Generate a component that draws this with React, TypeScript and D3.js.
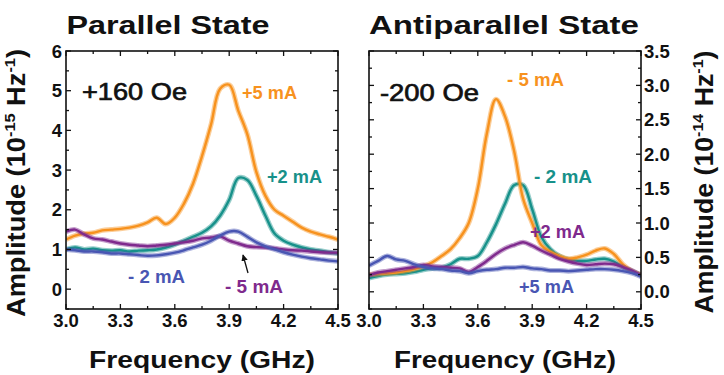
import * as d3 from 'd3';

// frequency grid (GHz) shared by all traces
const freqs = [
  3.0, 3.05, 3.1, 3.15, 3.2, 3.25, 3.3, 3.35, 3.4, 3.45, 3.5, 3.55, 3.6, 3.65, 3.7, 3.75,
  3.8, 3.85, 3.9, 3.95, 4.0, 4.05, 4.1, 4.15, 4.2, 4.25, 4.3, 4.35, 4.4, 4.45, 4.5,
];

// parallel state, +160 Oe (1e-15 / Hz)
const parPlus5 = [
  1.25, 1.35, 1.4, 1.42, 1.48, 1.5, 1.52, 1.55, 1.6, 1.68, 1.8, 1.64, 1.8, 2.15, 2.65, 3.35,
  4.15, 5.05, 5.15, 4.5, 3.9, 2.95, 2.35, 2.0, 1.85, 1.7, 1.55, 1.45, 1.38, 1.32, 1.25,
];
const parPlus2 = [
  1.0, 1.05, 1.0, 1.02, 0.98, 0.97, 0.98, 0.95, 0.97, 0.98, 1.0, 1.05, 1.12, 1.22, 1.32, 1.42,
  1.58, 1.85, 2.25, 2.8, 2.75, 2.35, 1.85, 1.4, 1.22, 1.12, 1.05, 1.0, 0.97, 0.93, 0.9,
];
const parMinus5 = [
  1.45, 1.5, 1.38, 1.28, 1.25, 1.2, 1.15, 1.12, 1.1, 1.08, 1.1, 1.12, 1.15, 1.18, 1.22, 1.28,
  1.3, 1.33, 1.22, 1.15, 1.08, 1.06, 1.05, 1.03, 1.0, 0.98, 0.97, 0.95, 0.93, 0.92, 0.92,
];
const parMinus2 = [
  1.0, 0.98, 0.95, 0.95, 0.93, 0.9, 0.9, 0.88, 0.86, 0.84, 0.85, 0.88, 0.92, 0.98, 1.05, 1.12,
  1.22, 1.35, 1.45, 1.45, 1.32, 1.18, 1.08, 1.0, 0.93, 0.87, 0.82, 0.78, 0.75, 0.72, 0.7,
];

// antiparallel state, -200 Oe (1e-14 / Hz)
const apMinus5 = [
  0.25, 0.26, 0.27, 0.28, 0.3, 0.33, 0.37, 0.43, 0.52, 0.62, 0.78, 1.0, 1.5, 2.3, 2.8, 2.55,
  2.05, 1.35, 1.0, 0.68, 0.58, 0.52, 0.48, 0.5, 0.54, 0.6, 0.63, 0.55, 0.4, 0.3, 0.25,
];
const apMinus2 = [
  0.2, 0.23, 0.25, 0.26, 0.27, 0.29, 0.32, 0.34, 0.35, 0.4, 0.48, 0.48, 0.52, 0.72, 0.98, 1.28,
  1.55, 1.55, 1.2, 0.8, 0.62, 0.52, 0.47, 0.45, 0.45, 0.47, 0.48, 0.44, 0.36, 0.3, 0.24,
];
const apPlus2 = [
  0.24, 0.28, 0.3, 0.32, 0.34, 0.36, 0.39, 0.37, 0.36, 0.35, 0.34, 0.29, 0.36, 0.45, 0.55, 0.63,
  0.68, 0.72, 0.67, 0.6, 0.54, 0.48, 0.44, 0.41, 0.39, 0.4, 0.41, 0.4, 0.36, 0.31, 0.24,
];
const apPlus5 = [
  0.38, 0.45, 0.52, 0.47, 0.45, 0.4, 0.36, 0.34, 0.33, 0.31, 0.3, 0.27, 0.3, 0.32, 0.33, 0.35,
  0.35, 0.36, 0.34, 0.33, 0.31, 0.31, 0.3, 0.31, 0.32, 0.33, 0.33, 0.32, 0.3, 0.27, 0.22,
];

const freqTicks = [3.0, 3.3, 3.6, 3.9, 4.2, 4.5];
const freqMinor = [3.15, 3.45, 3.75, 4.05, 4.35];
const parTicks = [0, 1, 2, 3, 4, 5, 6];
const parMinor = [-0.5, 0.5, 1.5, 2.5, 3.5, 4.5, 5.5];
const apTicks = [0, 0.5, 1, 1.5, 2, 2.5, 3, 3.5];
const apMinor = [-0.25, 0.25, 0.75, 1.25, 1.75, 2.25, 2.75, 3.25];

const ORANGE = '#f7921e';
const TEAL = '#17918a';
const PURPLE = '#7f2a8d';
const BLUE = '#4956b3';
const FONT = '"Liberation Sans", Arial, Helvetica, sans-serif';

type Trace = { values: number[]; color: string };

type PanelProps = {
  id: string;
  x: d3.ScaleLinear<number, number>;
  y: d3.ScaleLinear<number, number>;
  traces: Trace[];
  yTicks: number[];
  yMinor: number[];
  yFormat: (v: number) => string;
  labelsRight: boolean;
};

function Panel({ id, x, y, traces, yTicks, yMinor, yFormat, labelsRight }: PanelProps) {
  const [x0, x1] = x.range();
  const [y0, y1] = y.range();
  const line = d3
    .line<number>()
    .x((_, i) => x(freqs[i]))
    .y((d) => y(d))
    .curve(d3.curveCatmullRom);
  const major = 5;
  const minor = 3;
  return (
    <g>
      <defs>
        <clipPath id={id}>
          <rect x={x0} y={y1} width={x1 - x0} height={y0 - y1} />
        </clipPath>
      </defs>
      <g clipPath={`url(#${id})`}>
        {traces.map((t, i) => (
          <g key={i}>
            <path d={line(t.values) || ''} fill="none" stroke={t.color} strokeOpacity={0.45} strokeWidth={5} strokeLinejoin="round" />
            <path d={line(t.values) || ''} fill="none" stroke={t.color} strokeWidth={2.4} strokeLinejoin="round" />
          </g>
        ))}
      </g>
      <rect x={x0} y={y1} width={x1 - x0} height={y0 - y1} fill="none" stroke="#111" strokeWidth={1.6} />
      {freqTicks.concat(freqMinor).map((f, i) => {
        const len = freqTicks.includes(f) ? major : minor;
        return (
          <g key={`xt${i}`} stroke="#111" strokeWidth={1.3}>
            <line x1={x(f)} x2={x(f)} y1={y0} y2={y0 - len} />
            <line x1={x(f)} x2={x(f)} y1={y1} y2={y1 + len} />
          </g>
        );
      })}
      {yTicks.concat(yMinor).map((v, i) => {
        const len = yTicks.includes(v) ? major : minor;
        return (
          <g key={`yt${i}`} stroke="#111" strokeWidth={1.3}>
            <line x1={x0} x2={x0 + len} y1={y(v)} y2={y(v)} />
            <line x1={x1} x2={x1 - len} y1={y(v)} y2={y(v)} />
          </g>
        );
      })}
      {freqTicks.map((f, i) => (
        <text key={`xl${i}`} x={x(f)} y={327} textAnchor="middle" fontSize={18.5} fontWeight="bold" fontFamily={FONT} fill="#111">
          {f.toFixed(1)}
        </text>
      ))}
      {yTicks.map((v, i) => (
        <text
          key={`yl${i}`}
          x={labelsRight ? x1 + 3 : x0 - 4}
          y={y(v)}
          dy="0.36em"
          textAnchor={labelsRight ? 'start' : 'end'}
          fontSize={18.5}
          fontWeight="bold"
          fontFamily={FONT}
          fill="#111"
        >
          {yFormat(v)}
        </text>
      ))}
    </g>
  );
}

function Label({ x, y, text, color, size = 18, weight = 'bold', anchor = 'start', len, stroke }: {
  x: number; y: number; text: string; color: string; size?: number; weight?: string; anchor?: string; len?: number; stroke?: number;
}) {
  return (
    <text
      x={x}
      y={y}
      fill={color}
      stroke={stroke ? color : undefined}
      strokeWidth={stroke}
      fontSize={size}
      fontWeight={weight}
      fontFamily={FONT}
      textAnchor={anchor}
      textLength={len}
      lengthAdjust={len ? 'spacingAndGlyphs' : undefined}
    >
      {text}
    </text>
  );
}

function AmplitudeTitle({ cx, cy, exp, len }: { cx: number; cy: number; exp: string; len: number }) {
  return (
    <text
      transform={`translate(${cx},${cy}) rotate(-90)`}
      textAnchor="middle"
      fontSize={25}
      fontWeight="bold"
      fontFamily={FONT}
      fill="#111"
      textLength={len}
      lengthAdjust="spacingAndGlyphs"
    >
      Amplitude (10<tspan fontSize={15} dy={-10}>{exp}</tspan>
      <tspan dy={10}> Hz</tspan>
      <tspan fontSize={15} dy={-10}>-1</tspan>
      <tspan dy={10}>)</tspan>
    </text>
  );
}

export default function App() {
  const xPar = d3.scaleLinear().domain([3.0, 4.5]).range([66, 338]);
  const yPar = d3.scaleLinear().domain([-0.5, 6]).range([309, 51]);
  const xAp = d3.scaleLinear().domain([3.0, 4.5]).range([369, 641]);
  const yAp = d3.scaleLinear().domain([-0.25, 3.5]).range([309, 51]);

  return (
    <svg width={724} height={375} style={{ position: 'absolute', left: 0, top: 0, background: '#fff' }}>
      <defs>
        <marker id="arrowHead" viewBox="0 0 10 10" refX="9" refY="5" markerWidth="5" markerHeight="5" orient="auto">
          <path d="M0,0 L10,5 L0,10 z" fill="#111" />
        </marker>
      </defs>

      <Panel
        id="clipPar"
        x={xPar}
        y={yPar}
        traces={[
          { values: parPlus2, color: TEAL },
          { values: parPlus5, color: ORANGE },
          { values: parMinus5, color: PURPLE },
          { values: parMinus2, color: BLUE },
        ]}
        yTicks={parTicks}
        yMinor={parMinor}
        yFormat={(v) => String(v)}
        labelsRight={false}
      />
      <Panel
        id="clipAp"
        x={xAp}
        y={yAp}
        traces={[
          { values: apMinus2, color: TEAL },
          { values: apMinus5, color: ORANGE },
          { values: apPlus2, color: PURPLE },
          { values: apPlus5, color: BLUE },
        ]}
        yTicks={apTicks}
        yMinor={apMinor}
        yFormat={(v) => v.toFixed(1)}
        labelsRight
      />

      {/* titles */}
      <Label x={168} y={34} text="Parallel State" color="#111" size={25} anchor="middle" len={203} />
      <Label x={504} y={34} text="Antiparallel State" color="#111" size={25} anchor="middle" len={270} />

      {/* field annotations */}
      <Label x={82} y={100} text="+160 Oe" color="#111" size={24} weight="normal" len={105} stroke={0.7} />
      <Label x={380} y={101} text="-200 Oe" color="#111" size={24} weight="normal" len={99} stroke={0.7} />

      {/* trace labels, parallel */}
      <Label x={242} y={99} text="+5 mA" color={ORANGE} len={55} />
      <Label x={267} y={183} text="+2 mA" color={TEAL} len={55} />
      <Label x={128} y={283} text="- 2 mA" color={BLUE} len={57} />
      <Label x={225} y={293} text="- 5 mA" color={PURPLE} len={58} />
      <line x1={248} y1={273} x2={243} y2={255} stroke="#111" strokeWidth={1.3} markerEnd="url(#arrowHead)" />

      {/* trace labels, antiparallel */}
      <Label x={507} y={86} text="- 5 mA" color={ORANGE} len={57} />
      <Label x={534} y={183} text="- 2 mA" color={TEAL} len={58} />
      <Label x={530} y={238} text="+2 mA" color={PURPLE} len={55} />
      <Label x={519} y={293} text="+5 mA" color={BLUE} len={55} />

      {/* axis titles */}
      <Label x={202} y={368} text="Frequency (GHz)" color="#111" size={24} anchor="middle" len={226} />
      <Label x={505} y={368} text="Frequency (GHz)" color="#111" size={24} anchor="middle" len={222} />

      <AmplitudeTitle cx={25} cy={183} exp="-15" len={268} />
      <AmplitudeTitle cx={713} cy={182} exp="-14" len={263} />
    </svg>
  );
}
